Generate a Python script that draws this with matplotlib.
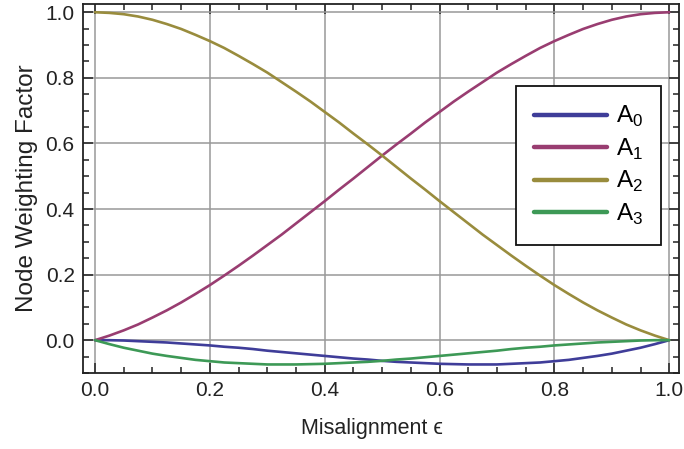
import numpy as np
import matplotlib
matplotlib.use("Agg")
from matplotlib import pyplot as plt
from matplotlib.ticker import MultipleLocator, FormatStrFormatter

plt.rcParams['font.family'] = ['Liberation Sans', 'DejaVu Sans']
plt.rcParams['mathtext.fontset'] = 'custom'
plt.rcParams['mathtext.rm'] = 'Liberation Sans'

# значения (шаг 0.025)
eps = np.linspace(0.0, 1.0, 41)
a0 = [0.000, 0.000, -0.001, -0.003, -0.005, -0.007, -0.010, -0.013, -0.016, -0.020,
      -0.023, -0.027, -0.032, -0.036, -0.040, -0.044, -0.048, -0.052, -0.056, -0.059,
      -0.063, -0.066, -0.068, -0.070, -0.072, -0.073, -0.074, -0.074, -0.074, -0.072,
      -0.070, -0.068, -0.064, -0.060, -0.054, -0.048, -0.041, -0.032, -0.023, -0.012, 0.000]
a1 = [0.000, 0.014, 0.030, 0.048, 0.069, 0.091, 0.115, 0.141, 0.168, 0.197,
      0.227, 0.258, 0.290, 0.322, 0.356, 0.390, 0.424, 0.459, 0.493, 0.528,
      0.563, 0.597, 0.630, 0.664, 0.696, 0.728, 0.758, 0.787, 0.816, 0.842,
      0.867, 0.891, 0.912, 0.931, 0.949, 0.964, 0.977, 0.987, 0.994, 0.998, 1.000]
a2 = [1.000, 0.998, 0.994, 0.987, 0.977, 0.964, 0.949, 0.931, 0.912, 0.891,
      0.867, 0.842, 0.816, 0.787, 0.758, 0.728, 0.696, 0.664, 0.630, 0.597,
      0.563, 0.528, 0.493, 0.459, 0.424, 0.390, 0.356, 0.322, 0.290, 0.258,
      0.227, 0.197, 0.168, 0.141, 0.115, 0.091, 0.069, 0.048, 0.030, 0.014, 0.000]
a3 = [0.000, -0.012, -0.023, -0.032, -0.041, -0.048, -0.054, -0.060, -0.064, -0.068,
      -0.070, -0.072, -0.074, -0.074, -0.074, -0.073, -0.072, -0.070, -0.068, -0.066,
      -0.063, -0.059, -0.056, -0.052, -0.048, -0.044, -0.040, -0.036, -0.032, -0.027,
      -0.023, -0.020, -0.016, -0.013, -0.010, -0.007, -0.005, -0.003, -0.001, 0.000, 0.000]

series = [a0, a1, a2, a3]
labels = ['A$_{0}$', 'A$_{1}$', 'A$_{2}$', 'A$_{3}$']
colors = ['#3f3d99', '#993d71', '#998c3d', '#3d9956']

fig = plt.figure(figsize=(6.84, 4.49), dpi=100)
ax = fig.add_axes([0.1213, 0.1693, 0.8714, 0.8217])

for ys, lab, c in zip(series, labels, colors):
    ax.plot(eps, ys, color=c, lw=1.9, label=lab, solid_capstyle='round', zorder=3)

ax.set_xlim(-0.021, 1.017)
ax.set_ylim(-0.1, 1.025)

ax.xaxis.set_major_locator(MultipleLocator(0.2))
ax.xaxis.set_minor_locator(MultipleLocator(0.05))
ax.yaxis.set_major_locator(MultipleLocator(0.2))
ax.yaxis.set_minor_locator(MultipleLocator(0.05))
ax.xaxis.set_major_formatter(FormatStrFormatter('%.1f'))
ax.yaxis.set_major_formatter(FormatStrFormatter('%.1f'))

ax.tick_params(which='both', direction='in', top=True, right=True,
               labeltop=False, labelright=False, color='#222222', width=1.1,
               labelsize=15, labelcolor='#222222')
ax.tick_params(which='major', length=7, pad=6)
ax.tick_params(which='minor', length=4)

ax.grid(True, which='major', color='#999999', lw=1.1, zorder=0)
for s in ax.spines.values():
    s.set_linewidth(1.3)
    s.set_color('#222222')

ax.set_xlabel('Misalignment ϵ', fontsize=15.5, color='#222222')
ax.xaxis.set_label_coords(0.485, -0.122)
ax.set_ylabel('Node Weighting Factor', fontsize=17.5, color='#222222', labelpad=5)

leg = ax.legend(loc='upper left', bbox_to_anchor=(0.7265, 0.778), borderaxespad=0,
                fontsize=17.5, handlelength=3.0, handletextpad=0.35, labelspacing=0.3,
                borderpad=0.75, fancybox=False, framealpha=1, edgecolor='#111111')
leg.get_frame().set_linewidth(1.3)
for line in leg.get_lines():
    line.set_linewidth(3.2)

fig.savefig('out.png', dpi=100)
